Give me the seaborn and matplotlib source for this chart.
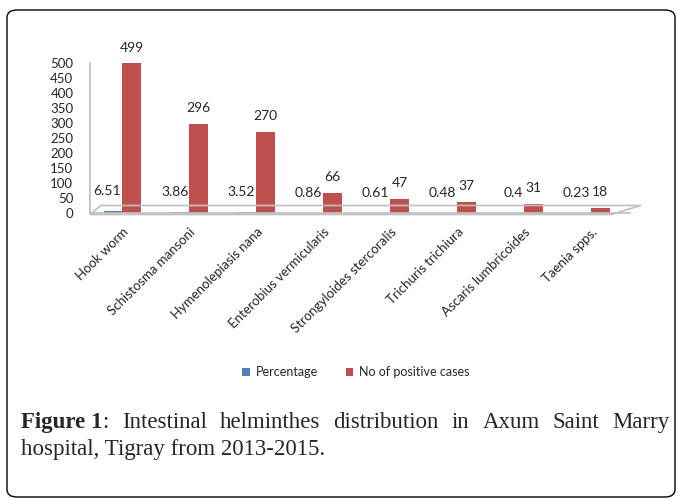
import matplotlib
matplotlib.use("Agg")
import matplotlib.pyplot as plt
import seaborn as sns
import pandas as pd
from matplotlib.patches import FancyBboxPatch, Polygon

categories = ["Hook worm", "Schistosma mansoni", "Hymenolepiasis nana",
              "Enterobius vermicularis", "Strongyloides stercoralis",
              "Trichuris trichiura", "Ascaris lumbricoides", "Taenia spps."]
percentage = [6.51, 3.86, 3.52, 0.86, 0.61, 0.48, 0.4, 0.23]
positive_cases = [499, 296, 270, 66, 47, 37, 31, 18]
series_names = ["Percentage", "No of positive cases"]
y_ticks = list(range(0, 501, 50))
percentage_labels = ["6.51", "3.86", "3.52", "0.86", "0.61", "0.48", "0.4", "0.23"]

sns.set_theme(style="white")
plt.rcParams['font.family'] = ['Lato', 'DejaVu Sans']

df = pd.DataFrame({
    "Parasite": categories * 2,
    "Series": [series_names[0]] * len(categories) + [series_names[1]] * len(categories),
    "Value": percentage + positive_cases,
})

W, H = 678, 500
fig = plt.figure(figsize=(W / 100, H / 100), dpi=100)

ax = fig.add_axes([90 / W, 1 - 213 / H, (630 - 90) / W, 150 / H])
sns.barplot(data=df, x="Parasite", y="Value", hue="Series",
            palette=["#4F81BD", "#C0504D"], width=0.55, ax=ax,
            saturation=1, edgecolor="none")

ax.set_xlim(-0.48, 7.58)
ax.set_ylim(0, 500)
ax.set_yticks(y_ticks)
ax.set_yticklabels([str(t) for t in y_ticks], fontsize=9.5)
ax.set_xlabel("")
ax.set_ylabel("")
ax.tick_params(axis="y", length=0, pad=12)
ax.tick_params(axis="x", length=0, pad=9)
plt.setp(ax.get_xticklabels(), rotation=45, ha="right", rotation_mode="anchor", fontsize=9.5)

for s in ["top", "right"]:
    ax.spines[s].set_visible(False)
ax.spines["left"].set_color("#BFBFBF")
ax.spines["bottom"].set_color("#BFBFBF")

# 3D-looking floor outline
floor = Polygon([(0.0, -0.01), (0.965, -0.01), (1.02, 0.05), (0.02, 0.05)],
                closed=True, transform=ax.transAxes, fill=False,
                edgecolor="#BFBFBF", lw=1.2, clip_on=False)
ax.add_patch(floor)

# data labels
ax.bar_label(ax.containers[1], labels=[str(v) for v in positive_cases], padding=7, fontsize=10)
pct_anns = ax.bar_label(ax.containers[0], labels=percentage_labels, padding=10, fontsize=10)
for a in pct_anns:
    a.set_ha("right")
    a.xyann = (6, 10)

sns.move_legend(ax, "center", bbox_to_anchor=(356 / W, 1 - 372 / H),
                bbox_transform=fig.transFigure, ncol=2, frameon=False,
                title=None, fontsize=9, handlelength=0.6, handleheight=0.6,
                columnspacing=2.2, handletextpad=0.5)

# rounded border
border = FancyBboxPatch((7 / W, 3 / H), (668) / W, (487) / H,
                        boxstyle="round,pad=0,rounding_size=0.015",
                        transform=fig.transFigure, fill=False,
                        edgecolor="black", lw=1.0)
fig.patches.append(border)

# caption (justified line 1)
fig.canvas.draw()
renderer = fig.canvas.get_renderer()
cap_size = 16.5
serif = ["Liberation Serif", "DejaVu Serif"]

x0, x1 = 21, 670
y1 = 1 - 428 / H
y2 = 1 - 455 / H

def width_px(t):
    bb = t.get_window_extent(renderer=renderer)
    return bb.width

fig_txt = fig.text(x0 / W, y1, "Figure 1", fontsize=cap_size, fontweight="bold",
                   family=serif, va="baseline", ha="left")
colon = fig.text(0, y1, ":", fontsize=cap_size, family=serif, va="baseline", ha="left")
words = ["Intestinal", "helminthes", "distribution", "in", "Axum", "Saint", "Marry"]
wtexts = [fig.text(0, y1, w, fontsize=cap_size, family=serif, va="baseline", ha="left") for w in words]
fig.canvas.draw()
w_fig = width_px(fig_txt)
w_colon = width_px(colon)
w_words = [width_px(t) for t in wtexts]
total = w_fig + w_colon + sum(w_words)
gap = (x1 - x0 - total) / len(words)
colon.set_x((x0 + w_fig) / W)
x = x0 + w_fig + w_colon + gap
for t, w in zip(wtexts, w_words):
    t.set_x(x / W)
    x += w + gap

fig.text(x0 / W, y2, "hospital, Tigray from 2013-2015.", fontsize=cap_size,
         family=serif, va="baseline", ha="left")

fig.savefig("out.png", dpi=100)
